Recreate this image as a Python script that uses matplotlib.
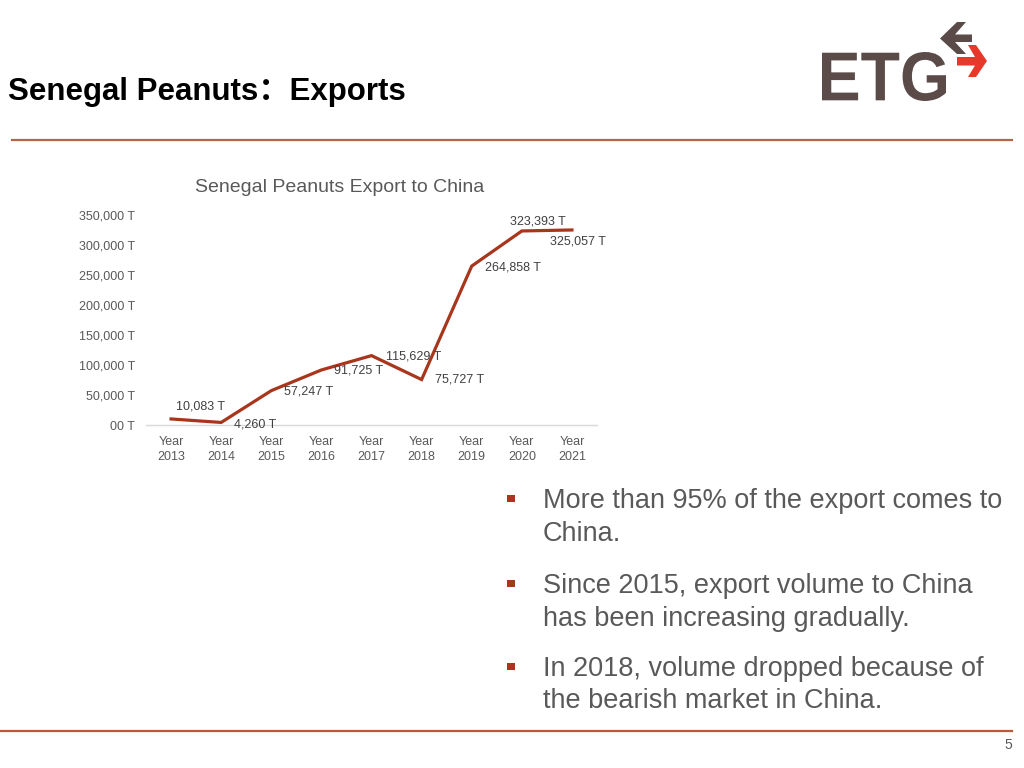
import matplotlib.pyplot as plt
from matplotlib.patches import Rectangle, PathPatch, Polygon
from matplotlib.textpath import TextPath
from matplotlib.font_manager import FontProperties
from matplotlib.transforms import Affine2D, IdentityTransform
from matplotlib.lines import Line2D

# ── données ──────────────────────────────────
years = ["2013", "2014", "2015", "2016", "2017", "2018", "2019", "2020", "2021"]
exports_t = [10083, 4260, 57247, 91725, 115629, 75727, 264858, 323393, 325057]
y_ticks = [0, 50000, 100000, 150000, 200000, 250000, 300000, 350000]
y_tick_labels = ["00 T", "50,000 T", "100,000 T", "150,000 T",
                 "200,000 T", "250,000 T", "300,000 T", "350,000 T"]
bullets = [
    ["More than 95% of the export comes to", "China."],
    ["Since 2015, export volume to China", "has been increasing gradually."],
    ["In 2018, volume dropped because of", "the bearish market in China."],
]

W, H = 1024, 768
RED = "#A8361C"
GREY = "#595959"
FONTS = ["Liberation Sans", "Noto Sans CJK SC", "DejaVu Sans"]
plt.rcParams["font.family"] = FONTS


def fx(x):
    return x / W


def fy(y):
    return 1 - y / H


fig = plt.figure(figsize=(W / 100, H / 100), dpi=100)

# --- en-tête ---
fig.text(fx(8), fy(100), "Senegal Peanuts：Exports", fontsize=22.5,
         fontweight="bold", color="black", va="baseline", ha="left")
fig.add_artist(Line2D([fx(12), fx(1012)], [fy(140), fy(140)],
                      color="#B3654A", linewidth=1.6, transform=fig.transFigure))
fig.add_artist(Line2D([fx(0), fx(1012)], [fy(731), fy(731)],
                      color="#B85A36", linewidth=1.6, transform=fig.transFigure))
fig.text(fx(1008), fy(745), "5", fontsize=10, color=GREY, ha="center", va="center")

# --- logo ETG ---
tp = TextPath((0, 0), "ETG", size=100,
              prop=FontProperties(family="Liberation Sans", weight="bold"))
ext = tp.get_extents()
x0, x1, ytop, ybot = 822, 946, 52, 101
sx = (x1 - x0) / ext.width
sy = (ybot - ytop) / ext.height
tr = Affine2D().translate(-ext.x0, -ext.y0).scale(sx, sy).translate(x0, H - ybot)
fig.patches.append(PathPatch(tr.transform_path(tp), facecolor="#5A4A48",
                             edgecolor="none", transform=IdentityTransform()))


def px_poly(pts, color):
    return Polygon([(x, H - y) for x, y in pts], closed=True, facecolor=color,
                   edgecolor="none", transform=IdentityTransform())


fig.patches.append(px_poly([(940, 38.5), (957, 22), (966, 22), (955, 34.5),
                            (972, 34.5), (972, 42), (955, 42), (966, 54),
                            (957, 54)], "#5A4A48"))
fig.patches.append(px_poly([(968, 45), (976, 45), (987, 61), (976, 77),
                            (968, 77), (975, 65.5), (957, 65.5), (957, 57),
                            (975, 57)], "#E8382B"))

# --- graphique ---
ax = fig.add_axes([fx(146), fy(425), (597 - 146) / W, 210 / H])
xs = list(range(len(years)))
ax.plot(xs, exports_t, color=RED, linewidth=2.3, solid_joinstyle="miter")
ax.set_xlim(-0.5, len(years) - 0.5)
ax.set_ylim(0, 350000)
ax.set_yticks(y_ticks)
ax.set_yticklabels(y_tick_labels)
ax.set_xticks(xs)
ax.set_xticklabels([f"Year\n{y}" for y in years], linespacing=1.3)
ax.tick_params(axis="both", length=0, labelsize=9, labelcolor=GREY)
ax.tick_params(axis="y", pad=8)
ax.tick_params(axis="x", pad=8)
for s in ["top", "right", "left"]:
    ax.spines[s].set_visible(False)
ax.spines["bottom"].set_color("#D9D9D9")
ax.spines["bottom"].set_linewidth(1)
ax.patch.set_alpha(0)

# décalages des étiquettes (pixels)
offsets = [(5, 12, "left"), (13, -2, "left"), (13, -1, "left"), (13, -1, "left"),
           (14, -1, "left"), (13, 0, "left"), (13, -1, "left"),
           (-12, 9, "left"), (-22, -12, "left")]
for x, v, (dx, dy, ha) in zip(xs, exports_t, offsets):
    ax.annotate(f"{v:,} T", (x, v), xytext=(dx, dy), textcoords="offset pixels",
                fontsize=9, color="#404040", ha=ha, va="center",
                annotation_clip=False)

fig.text(fx(340), fy(187), "Senegal Peanuts Export to China", fontsize=14,
         color=GREY, ha="center", va="center")

# --- puces ---
baselines = [(508, 541), (593, 626), (675.5, 708)]
for lines, ys in zip(bullets, baselines):
    fig.patches.append(Rectangle((506.5, H - ys[0] + 6), 8, 7, facecolor=RED,
                                 edgecolor="none", transform=IdentityTransform()))
    for line, yb in zip(lines, ys):
        fig.text(fx(543), fy(yb), line, fontsize=19.5, color=GREY,
                 ha="left", va="baseline")

fig.savefig("out.png", dpi=100, facecolor="white")
